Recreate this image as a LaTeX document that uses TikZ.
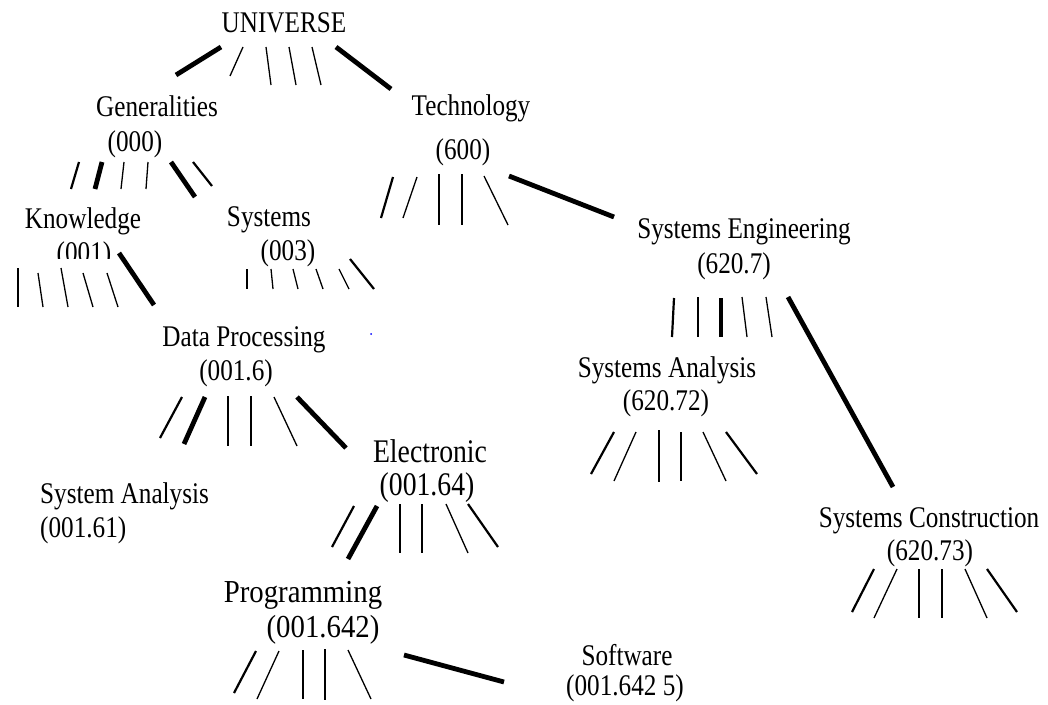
\documentclass[tikz,border=0pt]{standalone}
\usepackage{fontspec}
\setmainfont{Liberation Serif}[FakeStretch=0.84]
\newfontfamily\progfont{Liberation Serif}[FakeStretch=0.9]
\begin{document}
\begin{tikzpicture}[x=1pt,y=-1pt,
  lbl/.style={anchor=base,inner sep=0pt,font=\fontsize{30}{34}\selectfont},
  lbll/.style={anchor=base west,inner sep=0pt,font=\fontsize{30}{34}\selectfont},
  lblbig/.style={anchor=base,inner sep=0pt,font=\fontsize{33}{37}\selectfont},
  lblprog/.style={anchor=base,inner sep=0pt,font=\progfont\fontsize{32}{36}\selectfont},
  stubthin/.style={line width=1.3pt},
  stubmid/.style={line width=2.2pt},
  stubbold/.style={line width=4.8pt}]
\useasboundingbox (0,0) rectangle (1048,704);

% classification headings
\node[lbl] (univ) at (284,32) {UNIVERSE};
\node[lbl] (gen) at (157,116) {Generalities};
\node[lbl] (gencode) at (135,151) {(000)};
\node[lbl] (tech) at (471,115) {Technology};
\node[lbl] (techcode) at (463,159) {(600)};
\node[lbl] (know) at (83,228) {Knowledge};
\begin{scope}
  \clip (40,230) rectangle (130,258);
  \node[lbl] (knowcode) at (84,262) {(001)};
\end{scope}
\node[lbl] (sys) at (269,226) {Systems};
\node[lbl] (syscode) at (288,260) {(003)};
\node[lbl] (se) at (744,238) {Systems Engineering};
\node[lbl] (secode) at (734,273) {(620.7)};
\node[lbl] (dp) at (244,346) {Data Processing};
\node[lbl] (dpcode) at (236,380) {(001.6)};
\node[lbl] (sa) at (667,377) {Systems Analysis};
\node[lbl] (sacode) at (666,410) {(620.72)};
\node[lblbig] (elec) at (430,462) {Electronic};
\node[lblbig] (eleccode) at (427,495) {(001.64)};
\node[lbll] (sysan) at (40,503) {System Analysis};
\node[lbll] (sysancode) at (40,537) {(001.61)};
\node[lbl] (sc) at (929,527) {Systems Construction};
\node[lbl] (sccode) at (930,560) {(620.73)};
\node[lblprog] (prog) at (303,602) {Programming};
\node[lblprog] (progcode) at (323,637) {(001.642)};
\node[lbl] (soft) at (627,665) {Software};
\node[lbl] (softcode) at (625,695) {(001.642 5)};

\fill[blue] (371,334) circle (1);

% UNIVERSE fan
\draw[stubbold] (221,47) -- (176,75);
\draw[stubthin] (243,47) -- (230,76);
\draw[stubthin] (266,47) -- (271,85);
\draw[stubthin] (289,47) -- (296,85);
\draw[stubthin] (312,47) -- (321,85);
\draw[stubbold] (336,47) -- (391,89);

% Generalities fan
\draw[stubmid]  (79,162) -- (71,189);
\draw[stubbold] (102,162) -- (95,189);
\draw[stubthin] (124,162) -- (121,189);
\draw[stubthin] (148,162) -- (146,189);
\draw[stubbold] (171,162) -- (195,197);
\draw[stubmid]  (193,162) -- (212,186);

% Knowledge fan
\draw[stubmid]  (18,268) -- (18,307);
\draw[stubthin] (38,273) -- (43,307);
\draw[stubthin] (61,268) -- (68,307);
\draw[stubthin] (83,273) -- (93,307);
\draw[stubthin] (107,273) -- (118,307);
\draw[stubbold] (119,253) -- (154,305);

% Systems fan
\draw[stubmid]  (247,269) -- (247,289);
\draw[stubthin] (271,269) -- (273,289);
\draw[stubthin] (293,269) -- (298,289);
\draw[stubthin] (316,269) -- (323,289);
\draw[stubthin] (339,269) -- (349,289);
\draw[stubmid]  (350,259) -- (374,289);

% Technology fan
\draw[stubmid]  (393,177) -- (381,218);
\draw[stubthin] (417,177) -- (403,218);
\draw[stubmid]  (439,174) -- (439,225);
\draw[stubmid]  (462,174) -- (462,225);
\draw[stubthin] (484,176) -- (508,225);
\draw[stubbold] (509,176) -- (614,217);

% Systems Engineering fan
\draw[stubmid]  (674,298) -- (672,337);
\draw[stubthin] (698,297) -- (698,337);
\draw[stubbold] (721,298) -- (721,337);
\draw[stubthin] (742,297) -- (747,337);
\draw[stubthin] (766,297) -- (772,337);
\draw[stubbold] (788,297) -- (893,487);

% Systems Analysis fan
\draw[stubmid]  (614,432) -- (591,474);
\draw[stubthin] (636,432) -- (614,481);
\draw[stubmid]  (659,430) -- (659,482);
\draw[stubthin] (681,432) -- (681,481);
\draw[stubthin] (703,432) -- (726,481);
\draw[stubmid]  (726,432) -- (757,474);

% Systems Construction fan
\draw[stubmid]  (874,569) -- (852,612);
\draw[stubthin] (897,569) -- (874,618);
\draw[stubthin] (919,569) -- (919,618);
\draw[stubmid]  (942,569) -- (942,618);
\draw[stubthin] (965,569) -- (987,618);
\draw[stubmid]  (987,569) -- (1017,612);

% Data Processing fan
\draw[stubmid]  (182,397) -- (160,438);
\draw[stubbold] (205,397) -- (184,444);
\draw[stubmid]  (228,396) -- (228,446);
\draw[stubmid]  (251,396) -- (251,446);
\draw[stubthin] (274,397) -- (297,446);
\draw[stubbold] (297,397) -- (346,448);

% Electronic fan
\draw[stubmid]  (354,506) -- (332,547);
\draw[stubbold] (377,506) -- (348,559);
\draw[stubthin] (400,504) -- (400,553);
\draw[stubmid]  (422,504) -- (422,553);
\draw[stubthin] (446,504) -- (468,553);
\draw[stubmid]  (468,504) -- (498,547);

% Programming fan
\draw[stubmid]  (256,651) -- (234,693);
\draw[stubthin] (279,651) -- (257,699);
\draw[stubthin] (303,650) -- (303,699);
\draw[stubmid]  (325,649) -- (325,700);
\draw[stubthin] (348,650) -- (371,699);
\draw[stubbold] (404,655) -- (504,682);
\end{tikzpicture}
\end{document}
